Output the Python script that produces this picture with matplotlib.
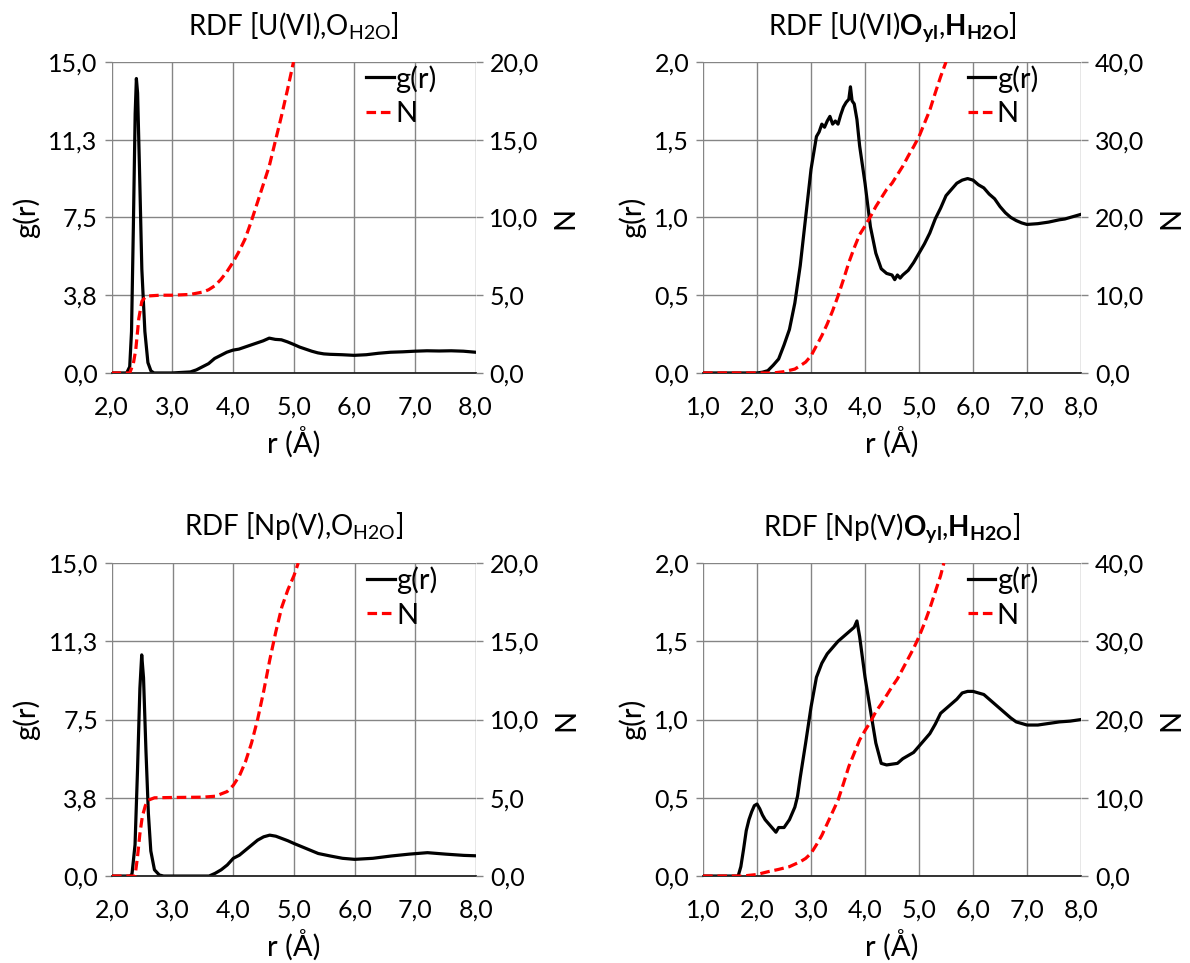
import matplotlib

matplotlib.use("Agg")
import matplotlib.pyplot as plt

plt.rcParams["font.family"] = ["Lato", "DejaVu Sans"]
plt.rcParams["mathtext.fontset"] = "custom"
plt.rcParams["mathtext.rm"] = "Lato"
plt.rcParams["mathtext.bf"] = "Lato:bold"
plt.rcParams["mathtext.it"] = "Lato:italic"

GRID = "#858585"
RED = "#ff0000"

# ---- U(VI), O_H2O ----
r_g_u_o = [2.0, 2.25, 2.30, 2.33, 2.36, 2.39, 2.41, 2.43, 2.46, 2.50, 2.55, 2.60, 2.65,
           2.70, 3.0, 3.3, 3.4, 3.5, 3.6, 3.7, 3.8, 3.9, 4.0, 4.1, 4.2, 4.3, 4.4, 4.5,
           4.6, 4.7, 4.8, 4.9, 5.0, 5.1, 5.2, 5.3, 5.4, 5.5, 5.6, 5.8, 6.0, 6.2, 6.4,
           6.6, 6.8, 7.0, 7.2, 7.4, 7.6, 7.8, 8.0]
g_u_o = [0, 0, 0.3, 2.0, 7.0, 12.5, 14.2, 13.5, 10.0, 5.0, 2.0, 0.5, 0.1,
         0.0, 0.0, 0.05, 0.15, 0.3, 0.45, 0.7, 0.85, 1.0, 1.1, 1.15, 1.25, 1.35, 1.45, 1.55,
         1.68, 1.62, 1.6, 1.5, 1.38, 1.25, 1.15, 1.05, 0.97, 0.92, 0.9, 0.88, 0.85, 0.88, 0.95,
         1.0, 1.02, 1.05, 1.07, 1.06, 1.07, 1.05, 1.0]
r_n_u_o = [2.0, 2.30, 2.36, 2.40, 2.45, 2.50, 2.55, 2.60, 2.8, 3.0, 3.3, 3.5, 3.6, 3.7,
           3.8, 3.9, 4.0, 4.1, 4.2, 4.3, 4.4, 4.5, 4.6, 4.7, 4.8, 4.9, 5.0]
n_u_o = [0, 0, 0.6, 1.5, 3.5, 4.6, 4.85, 4.95, 5.0, 5.0, 5.05, 5.2, 5.35, 5.6,
         6.0, 6.5, 7.1, 7.8, 8.6, 9.7, 10.9, 12.1, 13.3, 14.9, 16.5, 18.2, 20.0]

# ---- U(VI) O_yl, H_H2O ----
r_g_u_h = [1.0, 2.0, 2.1, 2.2, 2.3, 2.4, 2.5, 2.6, 2.7, 2.8, 2.9, 3.0, 3.1, 3.15, 3.2,
           3.25, 3.3, 3.35, 3.4, 3.45, 3.5, 3.55, 3.6, 3.65, 3.7, 3.73, 3.76, 3.8, 3.85,
           3.9, 4.0, 4.1, 4.2, 4.3, 4.4, 4.5, 4.55, 4.6, 4.65, 4.7, 4.8, 4.9, 5.0, 5.1,
           5.2, 5.3, 5.4, 5.5, 5.6, 5.7, 5.8, 5.9, 6.0, 6.1, 6.2, 6.3, 6.4, 6.5, 6.6,
           6.7, 6.8, 6.9, 7.0, 7.2, 7.4, 7.6, 7.7, 7.8, 8.0]
g_u_h = [0, 0, 0.005, 0.015, 0.05, 0.09, 0.18, 0.28, 0.45, 0.69, 1.0, 1.31, 1.52, 1.55, 1.6,
         1.58, 1.62, 1.65, 1.6, 1.62, 1.6, 1.66, 1.71, 1.74, 1.76, 1.84, 1.75, 1.73, 1.63,
         1.46, 1.22, 0.94, 0.77, 0.67, 0.64, 0.63, 0.6, 0.63, 0.61, 0.63, 0.66, 0.71, 0.77, 0.83,
         0.9, 0.99, 1.06, 1.14, 1.18, 1.22, 1.24, 1.25, 1.24, 1.21, 1.19, 1.15, 1.12, 1.07, 1.03,
         1.0, 0.98, 0.965, 0.955, 0.96, 0.97, 0.985, 0.99, 1.0, 1.02]
r_n_u_h = [1.0, 2.3, 2.5, 2.7, 2.8, 2.9, 3.0, 3.1, 3.2, 3.3, 3.4, 3.5, 3.6, 3.7, 3.8, 3.9,
           4.0, 4.1, 4.2, 4.3, 4.4, 4.5, 4.6, 4.7, 4.8, 4.9, 5.0, 5.1, 5.2, 5.3, 5.4, 5.5]
n_u_h = [0, 0, 0.17, 0.5, 0.94, 1.4, 2.2, 3.5, 4.8, 6.3, 8.0, 9.9, 12.0, 14.2, 16.1, 17.8,
         18.9, 20.1, 21.4, 22.5, 23.6, 24.4, 25.5, 26.6, 27.9, 29.1, 30.4, 32.1, 33.8, 36.0,
         38.1, 40.0]

# ---- Np(V), O_H2O ----
r_g_np_o = [2.0, 2.30, 2.33, 2.38, 2.42, 2.46, 2.49, 2.52, 2.56, 2.60, 2.64, 2.70, 2.78,
            2.85, 3.6, 3.7, 3.8, 3.9, 4.0, 4.1, 4.2, 4.3, 4.4, 4.5, 4.6, 4.7, 4.8, 4.9,
            5.0, 5.2, 5.4, 5.6, 5.8, 6.0, 6.3, 6.6, 6.9, 7.2, 7.5, 7.8, 8.0]
g_np_o = [0, 0, 0.1, 1.5, 5.0, 9.0, 10.6, 9.5, 6.0, 3.0, 1.2, 0.3, 0.05,
          0.0, 0.0, 0.13, 0.3, 0.53, 0.85, 1.0, 1.24, 1.48, 1.72, 1.88, 1.96, 1.91, 1.8, 1.69,
          1.56, 1.32, 1.08, 0.96, 0.85, 0.8, 0.85, 0.96, 1.05, 1.12, 1.05, 0.99, 0.97]
r_n_np_o = [2.0, 2.38, 2.42, 2.46, 2.50, 2.55, 2.60, 2.7, 3.0, 3.5, 3.7, 3.9, 4.0, 4.1,
            4.2, 4.3, 4.4, 4.5, 4.6, 4.7, 4.8, 4.9, 5.0, 5.07]
n_np_o = [0, 0, 1.2, 2.7, 3.8, 4.5, 4.85, 5.0, 5.02, 5.04, 5.1, 5.4, 5.8, 6.4,
          7.3, 8.5, 10.0, 11.8, 13.8, 15.6, 17.2, 18.3, 19.2, 20.0]

# ---- Np(V) O_yl, H_H2O ----
r_g_np_h = [1.0, 1.65, 1.7, 1.75, 1.8, 1.85, 1.9, 1.95, 2.0, 2.05, 2.1, 2.15, 2.2, 2.3,
            2.35, 2.4, 2.5, 2.6, 2.7, 2.75, 2.8, 2.9, 3.0, 3.1, 3.2, 3.3, 3.4, 3.5, 3.6,
            3.7, 3.8, 3.85, 3.9, 4.0, 4.1, 4.2, 4.3, 4.4, 4.5, 4.6, 4.7, 4.8, 4.9, 5.0,
            5.1, 5.2, 5.3, 5.4, 5.5, 5.6, 5.7, 5.8, 5.9, 6.0, 6.1, 6.2, 6.3, 6.4, 6.5,
            6.6, 6.7, 6.8, 6.9, 7.0, 7.2, 7.4, 7.6, 7.8, 8.0]
g_np_h = [0, 0, 0.06, 0.17, 0.29, 0.36, 0.41, 0.45, 0.46, 0.43, 0.39, 0.36, 0.34, 0.3,
          0.28, 0.31, 0.31, 0.36, 0.44, 0.51, 0.63, 0.85, 1.08, 1.27, 1.36, 1.42, 1.46, 1.5, 1.53,
          1.56, 1.59, 1.63, 1.53, 1.27, 1.06, 0.85, 0.72, 0.71, 0.715, 0.72, 0.75, 0.77, 0.79, 0.83,
          0.87, 0.91, 0.97, 1.04, 1.07, 1.1, 1.13, 1.17, 1.18, 1.18, 1.17, 1.16, 1.13, 1.1, 1.07,
          1.04, 1.01, 0.985, 0.975, 0.965, 0.965, 0.975, 0.985, 0.99, 1.0]
r_n_np_h = [1.0, 1.7, 1.8, 2.0, 2.2, 2.4, 2.6, 2.8, 2.9, 3.0, 3.1, 3.2, 3.3, 3.4, 3.5,
            3.6, 3.7, 3.8, 3.9, 4.0, 4.1, 4.2, 4.3, 4.4, 4.5, 4.6, 4.7, 4.8, 4.9, 5.0,
            5.1, 5.2, 5.3, 5.4, 5.46]
n_np_h = [0, 0, 0.05, 0.2, 0.55, 0.85, 1.2, 1.83, 2.25, 2.9, 4.0, 5.2, 6.7, 8.2, 9.7,
          11.8, 14.0, 15.7, 17.4, 18.6, 19.7, 21.0, 22.0, 23.1, 24.2, 25.2, 26.5, 27.8, 29.1, 30.6,
          32.3, 34.2, 36.3, 38.4, 40.0]

# ---- axis ticks ----
x_ticks_o = [2, 3, 4, 5, 6, 7, 8]
x_ticks_h = [1, 2, 3, 4, 5, 6, 7, 8]
g_ticks_o = [0, 3.75, 7.5, 11.25, 15]
g_labels_o = ["0,0", "3,8", "7,5", "11,3", "15,0"]
n_ticks_o = [0, 5, 10, 15, 20]
g_ticks_h = [0, 0.5, 1.0, 1.5, 2.0]
n_ticks_h = [0, 10, 20, 30, 40]

titles = [
    r"RDF [U(VI),O$_{\mathregular{H2O}}$]",
    r"RDF [U(VI)$\mathbf{O_{yl}}$,$\mathbf{H_{H2O}}$]",
    r"RDF [Np(V),O$_{\mathregular{H2O}}$]",
    r"RDF [Np(V)$\mathbf{O_{yl}}$,$\mathbf{H_{H2O}}$]",
]


def comma(v):
    return f"{v:.1f}".replace(".", ",")


def panel(rect, title, rg, g, rn, n, xticks, gticks, glabels, nticks):
    ax = fig.add_axes(rect)
    ax2 = ax.twinx()
    ax.plot(rg, g, color="black", lw=2.3, label="g(r)")
    ax2.plot(rn, n, color=RED, lw=2.3, ls=(0, (3, 1.5)), label="N")
    ax.set_xlim(xticks[0], xticks[-1])
    ax.set_ylim(gticks[0], gticks[-1])
    ax2.set_ylim(nticks[0], nticks[-1])
    ax.set_xticks(xticks)
    ax.set_xticklabels([comma(v) for v in xticks])
    ax.set_yticks(gticks)
    ax.set_yticklabels(glabels)
    ax2.set_yticks(nticks)
    ax2.set_yticklabels([comma(v) for v in nticks])
    ax.grid(True, color=GRID, lw=1.0)
    ax.set_axisbelow(True)
    for a in (ax, ax2):
        for s in ("top", "left", "right", "bottom"):
            a.spines[s].set_visible(False)
        a.tick_params(axis="y", length=5, width=1.0, color=GRID, labelsize=18, pad=5)
        a.tick_params(axis="x", length=0, labelsize=18, pad=16)
    ax.axhline(gticks[0], color="#222222", lw=1.3, clip_on=False, zorder=3)
    ax.set_xlabel("r (Å)", fontsize=21, labelpad=6)
    ax.set_ylabel("g(r)", fontsize=21, labelpad=6)
    ax2.set_ylabel("N", fontsize=21, labelpad=10)
    ax.set_title(title, fontsize=20, pad=20)
    handles = ax.get_lines()[:1] + ax2.get_lines()[:1]
    ax2.legend(handles, ["g(r)", "N"], loc="upper left", bbox_to_anchor=(0.70, 0.99),
               frameon=False, fontsize=21, handlelength=0.95, handletextpad=0.05,
               labelspacing=0.3, borderaxespad=0, borderpad=0)
    return ax


fig = plt.figure(figsize=(11.9, 9.63), dpi=100)
panel([0.0937, 0.6127, 0.3059, 0.3230], titles[0], r_g_u_o, g_u_o, r_n_u_o, n_u_o,
      x_ticks_o, g_ticks_o, g_labels_o, n_ticks_o)
panel([0.5908, 0.6127, 0.3176, 0.3230], titles[1], r_g_u_h, g_u_h, r_n_u_h, n_u_h,
      x_ticks_h, g_ticks_h, [comma(v) for v in g_ticks_h], n_ticks_h)
panel([0.0941, 0.0903, 0.3059, 0.3250], titles[2], r_g_np_o, g_np_o, r_n_np_o, n_np_o,
      x_ticks_o, g_ticks_o, g_labels_o, n_ticks_o)
panel([0.5908, 0.0903, 0.3176, 0.3250], titles[3], r_g_np_h, g_np_h, r_n_np_h, n_np_h,
      x_ticks_h, g_ticks_h, [comma(v) for v in g_ticks_h], n_ticks_h)

fig.savefig("out.png", dpi=100, facecolor="white")
